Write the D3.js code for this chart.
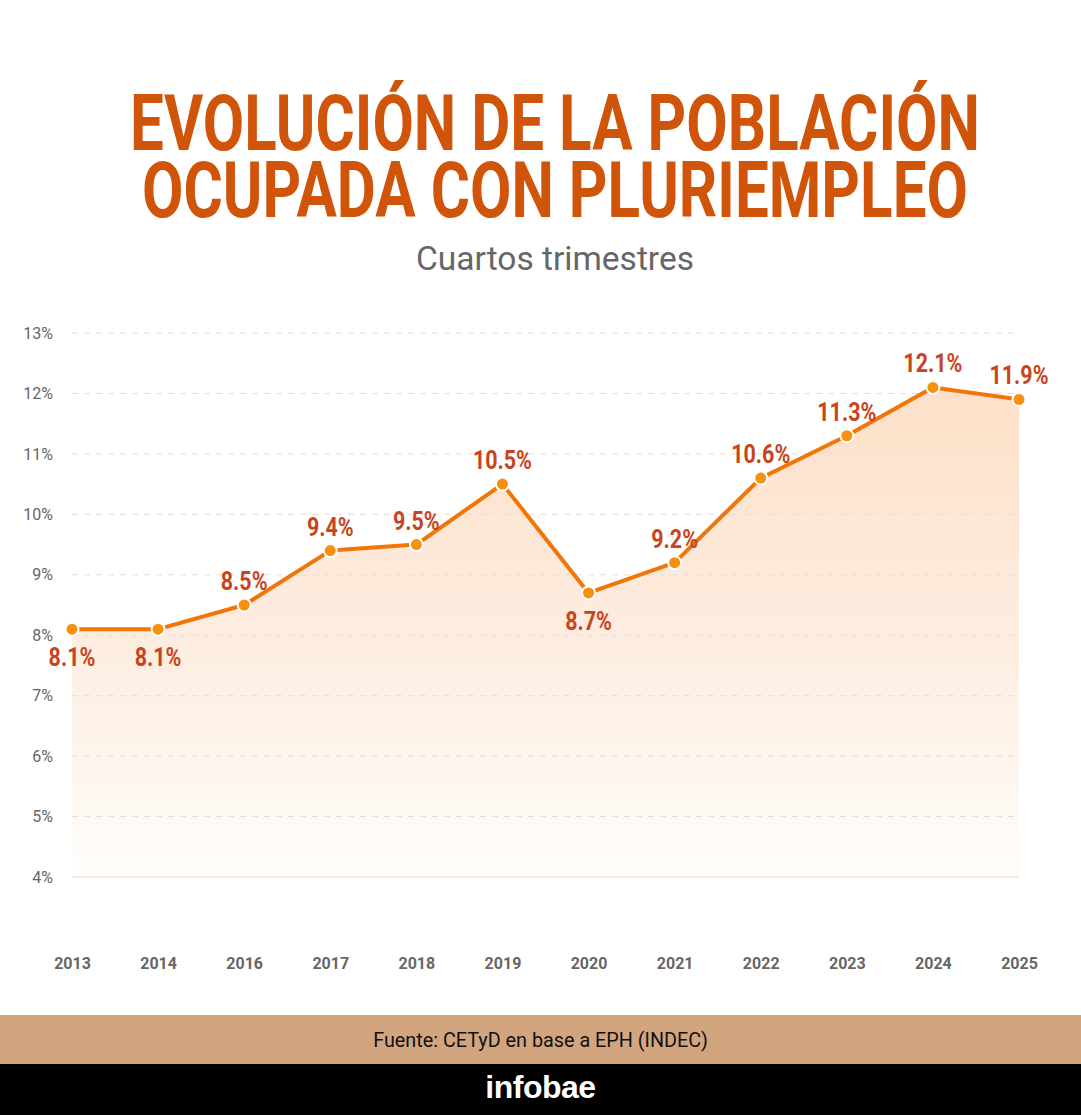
<!DOCTYPE html>
<html>
<head>
<meta charset="utf-8">
<script src="https://cdn.jsdelivr.net/npm/d3@7"></script>
<style>
  html, body { margin: 0; padding: 0; background: #fff; }
  svg { display: block; font-family: Roboto, "Noto Sans", sans-serif; }
</style>
</head>
<body>
<svg id="chart" width="1081" height="1115"></svg>
<script>
// Data
const years = ["2013", "2014", "2016", "2017", "2018", "2019", "2020", "2021", "2022", "2023", "2024", "2025"];
const values = [8.1, 8.1, 8.5, 9.4, 9.5, 10.5, 8.7, 9.2, 10.6, 11.3, 12.1, 11.9];
const labelBelow = [true, true, false, false, false, false, true, false, false, false, false, false];
const yTicks = [4, 5, 6, 7, 8, 9, 10, 11, 12, 13];
const titleLines = ["EVOLUCIÓN DE LA POBLACIÓN", "OCUPADA CON PLURIEMPLEO"];
const subtitle = "Cuartos trimestres";
const source = "Fuente: CETyD en base a EPH (INDEC)";

const svg = d3.select("#chart");
const W = 1081, H = 1115;
const headCenter = 555;

// Title (condensed look by horizontal scaling)
const titleColor = "#d0550a";
const titleWidths = [850, 826];
titleLines.forEach((t, i) => {
    const txt = svg.append("text")
        .attr("text-anchor", "middle")
        .attr("font-size", 77)
        .attr("font-weight", 700)
        .attr("fill", titleColor)
        .text(t);
    const len = txt.node().getComputedTextLength();
    const sx = titleWidths[i] / len;
    txt.attr("transform", `translate(${headCenter},${150 + i * 67}) scale(${sx},1)`);
});

svg.append("text")
    .attr("x", headCenter)
    .attr("y", 270)
    .attr("text-anchor", "middle")
    .attr("font-size", 33.5)
    .attr("fill", "#666")
    .text(subtitle);

// Scales
const margin = { left: 72, right: 62, top: 333, bottom: 238 };
const x = d3.scalePoint()
    .domain(years)
    .range([margin.left, W - margin.right]);
const y = d3.scaleLinear()
    .domain([4, 13])
    .range([H - margin.bottom, margin.top]);

const data = years.map((yr, i) => ({ year: yr, value: values[i], below: labelBelow[i] }));

// Gradient for the area
const defs = svg.append("defs");
const grad = defs.append("linearGradient")
    .attr("id", "areaGrad")
    .attr("gradientUnits", "userSpaceOnUse")
    .attr("x1", 0).attr("x2", 0)
    .attr("y1", y(d3.max(values))).attr("y2", y(4));
grad.append("stop").attr("offset", "0%").attr("stop-color", "#fde0c8");
grad.append("stop").attr("offset", "55%").attr("stop-color", "#fdeee2");
grad.append("stop").attr("offset", "100%").attr("stop-color", "#fffdfb");

// Area
const area = d3.area()
    .x(d => x(d.year))
    .y0(y(4))
    .y1(d => y(d.value));
svg.append("path")
    .datum(data)
    .attr("fill", "url(#areaGrad)")
    .attr("d", area);

// Grid lines
svg.append("g")
    .selectAll("line")
    .data(yTicks)
    .join("line")
    .attr("x1", margin.left)
    .attr("x2", W - margin.right)
    .attr("y1", d => y(d))
    .attr("y2", d => y(d))
    .attr("stroke", d => d === 4 ? "#eee4dc" : "#e6ddd7")
    .attr("stroke-width", d => d === 4 ? 1.5 : 1)
    .attr("stroke-dasharray", d => d === 4 ? null : "6,6");

// Y axis labels
const yAxis = svg.append("g")
    .attr("transform", `translate(${margin.left - 16},0)`)
    .call(d3.axisLeft(y).tickValues(yTicks).tickSize(0).tickFormat(d => d + "%"));
yAxis.select(".domain").remove();
yAxis.selectAll("text")
    .attr("font-family", "Roboto, sans-serif")
    .attr("font-size", 16)
    .attr("fill", "#666")
    .attr("dx", 0);

// X axis labels
const xAxis = svg.append("g")
    .attr("transform", `translate(0,${H - 160})`)
    .call(d3.axisBottom(x).tickSize(0));
xAxis.select(".domain").remove();
xAxis.selectAll("text")
    .attr("font-family", "Roboto, sans-serif")
    .attr("font-size", 16)
    .attr("font-weight", 700)
    .attr("fill", "#666");

// Line
const line = d3.line()
    .x(d => x(d.year))
    .y(d => y(d.value));
svg.append("path")
    .datum(data)
    .attr("fill", "none")
    .attr("stroke", "#f27507")
    .attr("stroke-width", 4)
    .attr("stroke-linejoin", "round")
    .attr("d", line);

// Points
svg.append("g")
    .selectAll("circle")
    .data(data)
    .join("circle")
    .attr("cx", d => x(d.year))
    .attr("cy", d => y(d.value))
    .attr("r", 6.5)
    .attr("fill", "#f7900c")
    .attr("stroke", "#fff")
    .attr("stroke-width", 2);

// Value labels
svg.append("g")
    .selectAll("text")
    .data(data)
    .join("text")
    .attr("text-anchor", "middle")
    .attr("font-size", 25)
    .attr("font-weight", 700)
    .attr("fill", "#c9441c")
    .attr("transform", d => `translate(${x(d.year)},${y(d.value) + (d.below ? 37 : -15)}) scale(0.86,1)`)
    .text(d => d.value.toFixed(1) + "%");

// Footer
svg.append("rect")
    .attr("x", 0).attr("y", 1015)
    .attr("width", W).attr("height", 49)
    .attr("fill", "#d3a57f");
svg.append("text")
    .attr("x", W / 2)
    .attr("y", 1047)
    .attr("text-anchor", "middle")
    .attr("font-size", 19.8)
    .attr("fill", "#111")
    .text(source);

svg.append("rect")
    .attr("x", 0).attr("y", 1064)
    .attr("width", W).attr("height", 51)
    .attr("fill", "#000");
svg.append("text")
    .attr("x", W / 2)
    .attr("y", 1098)
    .attr("text-anchor", "middle")
    .attr("font-family", "'Liberation Sans', Arial, sans-serif")
    .attr("font-size", 32)
    .attr("font-weight", 700)
    .attr("letter-spacing", -0.5)
    .attr("fill", "#fff")
    .text("infobae");
</script>
</body>
</html>
